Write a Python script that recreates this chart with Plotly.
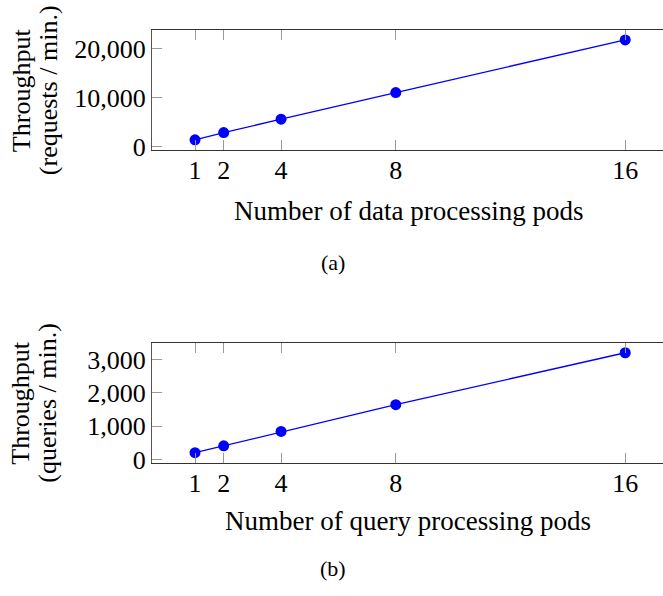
import plotly.graph_objects as go

pods = [1, 2, 4, 8, 16]
data_throughput = [1450, 2920, 5630, 11050, 21730]
query_throughput = [206, 412, 844, 1647, 3206]

x_ticks = [1, 2, 4, 8, 16]
data_yticks = [0, 10000, 20000]
query_yticks = [0, 1000, 2000, 3000]

W, H = 663, 596
FONT = "Liberation Serif"

def enlarge(vals, f=0.1):
    lo, hi = min(vals), max(vals)
    d = (hi - lo) * f
    return [lo - d, hi + d]

fig = go.Figure()
fig.add_trace(go.Scatter(x=pods, y=data_throughput, mode="lines+markers",
                         line=dict(color="#0000ff", width=1.3),
                         marker=dict(color="#0000ff", size=11),
                         xaxis="x", yaxis="y", showlegend=False))
fig.add_trace(go.Scatter(x=pods, y=query_throughput, mode="lines+markers",
                         line=dict(color="#0000ff", width=1.3),
                         marker=dict(color="#0000ff", size=11),
                         xaxis="x2", yaxis="y2", showlegend=False))

left_px = 152.0
unit = 28.68
x0_px = left_px + 0.5 * unit
xmax = (W - x0_px) / unit
xrange = [-0.5, xmax]

def ydom(top_px, bot_px):
    return [1 - bot_px / H, 1 - top_px / H]

TICKC = "#999999"
LINEC = "#333333"
common_x = dict(range=xrange, tickvals=x_ticks, ticks="inside", ticklen=10,
                tickcolor=TICKC, tickwidth=1, showline=True, linecolor=LINEC,
                linewidth=1.2, mirror="ticks", showgrid=False, zeroline=False,
                ticklabelstandoff=-3,
                tickfont=dict(family=FONT, size=26, color="black"))
common_y = dict(ticks="inside", ticklen=10, tickcolor=TICKC, tickwidth=1,
                showline=True, linecolor="#555555", linewidth=1.3, mirror=False,
                showgrid=False, zeroline=False, tickformat=",",
                tickfont=dict(family=FONT, size=26, color="black"))
right_y = dict(ticks="inside", ticklen=5, tickcolor=TICKC, tickwidth=1,
               showline=False, showgrid=False, zeroline=False, showticklabels=False,
               side="right")

dom1 = ydom(30.5, 152.9)
dom2 = ydom(349.8, 472.2)
r1 = enlarge(data_throughput)
r2 = enlarge(query_throughput)

fig.update_layout(
    width=W, height=H, margin=dict(l=0, r=0, t=0, b=0),
    paper_bgcolor="white", plot_bgcolor="white",
    xaxis=dict(domain=[left_px / W, 1.0], anchor="y", **common_x),
    yaxis=dict(domain=dom1, anchor="x", range=r1, tickvals=data_yticks, **common_y),
    yaxis3=dict(domain=dom1, anchor="x", overlaying="y", range=r1, tickvals=data_yticks, **right_y),
    xaxis2=dict(domain=[left_px / W, 1.0], anchor="y2", **common_x),
    yaxis2=dict(domain=dom2, anchor="x2", range=r2, tickvals=query_yticks, **common_y),
    yaxis4=dict(domain=dom2, anchor="x2", overlaying="y2", range=r2, tickvals=query_yticks, **right_y),
)

def ann(text, xpx, ypx, size, angle=0):
    fig.add_annotation(text=text, x=xpx / W, y=1 - ypx / H, xref="paper", yref="paper",
                       showarrow=False, textangle=angle, xanchor="center", yanchor="middle",
                       font=dict(family=FONT, size=size, color="black"))

ann("Throughput", 21, 92, 26, -90)
ann("(requests / min.)", 48, 92, 26, -90)
ann("Number of data processing pods", 408, 215, 27)
ann("(a)", 333, 268, 22)

ann("Throughput", 21, 411, 26, -90)
ann("(queries / min.)", 48, 411, 26, -90)
ann("Number of query processing pods", 408, 532, 27)
ann("(b)", 333, 580, 22)

fig.write_html(
    "out.html",
    config={"displayModeBar": False},
    post_script=("document.documentElement.style.margin='0';"
                 "document.body.style.margin='0';"
                 "document.documentElement.style.overflow='hidden';"
                 "document.body.style.overflow='hidden';"),
)
